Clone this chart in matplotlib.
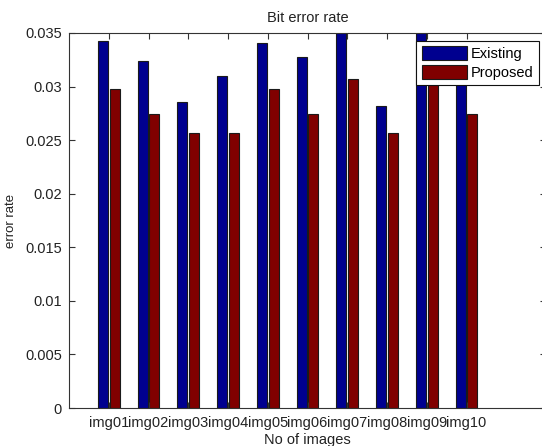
import matplotlib
matplotlib.use("Agg")
import matplotlib.pyplot as plt
import numpy as np

categories = ["img01", "img02", "img03", "img04", "img05",
              "img06", "img07", "img08", "img09", "img10"]
existing = [0.0343, 0.0324, 0.0286, 0.0310, 0.0341,
            0.0328, 0.0360, 0.0282, 0.0356, 0.0325]
proposed = [0.0298, 0.0274, 0.0257, 0.0257, 0.0298,
            0.0274, 0.0307, 0.0257, 0.0305, 0.0274]
yticks = [0, 0.005, 0.01, 0.015, 0.02, 0.025, 0.03, 0.035]
ytick_labels = ["0", "0.005", "0.01", "0.015", "0.02", "0.025", "0.03", "0.035"]

plt.rcParams['font.family'] = ['Liberation Sans', 'DejaVu Sans']

W, H = 542, 446
fig = plt.figure(figsize=(W / 100, H / 100), dpi=100)
ax = fig.add_axes([69 / W, (H - 408) / H, 477 / W, 375 / H])

x = np.arange(1, len(categories) + 1)
bw = 0.25
off = 0.15
ax.bar(x - off, existing, bw, color="#00008F", edgecolor="#1a1a1a",
       linewidth=0.8, label="Existing")
ax.bar(x + off, proposed, bw, color="#800000", edgecolor="#1a1a1a",
       linewidth=0.8, label="Proposed")

ax.set_xlim(0, 12)
ax.set_ylim(0, 0.035)
ax.set_xticks(x)
ax.set_xticklabels(categories, fontsize=10.5, color="#222222")
ax.set_yticks(yticks)
ax.set_yticklabels(ytick_labels, fontsize=10.5, color="#222222")
ax.tick_params(direction="in", length=4, width=0.8, top=True, right=True,
               colors="#333333", labelcolor="#222222")
ax.tick_params(axis="x", pad=6)
ax.tick_params(axis="y", pad=5)
for s in ["left", "bottom", "top"]:
    ax.spines[s].set_color("#333333")
    ax.spines[s].set_linewidth(0.8)
ax.spines["right"].set_color("#bbbbbb")

ax.set_title("Bit error rate", fontsize=10.5, pad=8, color="#222222")
ax.set_xlabel("No of images", fontsize=10.5, labelpad=2, color="#222222")
ax.set_ylabel("error rate", fontsize=9.5, labelpad=6, color="#222222")

leg = ax.legend(loc="upper right", bbox_to_anchor=(539 / W, (H - 40.7) / H),
                bbox_transform=fig.transFigure, borderaxespad=0,
                fancybox=False, framealpha=1, edgecolor="#111111",
                fontsize=10.5, handlelength=3.1, handleheight=1.1,
                handletextpad=0.3, labelspacing=0.3, borderpad=0.35)
leg.get_frame().set_linewidth(0.8)

fig.savefig("out.png", dpi=100)
